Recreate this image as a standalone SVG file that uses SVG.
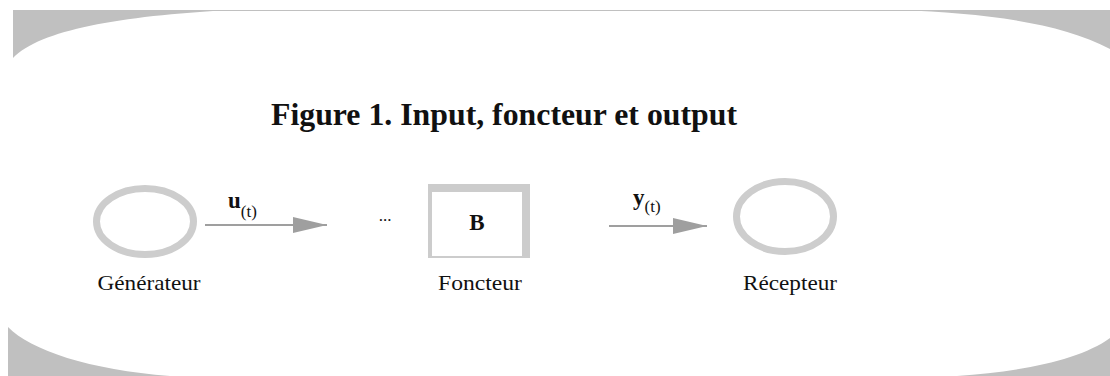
<svg xmlns="http://www.w3.org/2000/svg" width="1110" height="376" viewBox="0 0 1110 376">
  <style>
    .deco { fill: #c0c0c0; stroke: none; }
    .ring { fill: none; stroke: #cdcdcd; stroke-width: 7; }
    .lbl { font-family: "Liberation Serif", "Times New Roman", serif; font-size: 21px; fill: #111; text-anchor: middle; }
    .title { font-family: "Liberation Serif", "Times New Roman", serif; font-size: 31px; font-weight: bold; fill: #111; }
    .sym { font-family: "Liberation Serif", "Times New Roman", serif; font-weight: bold; font-size: 23px; fill: #111; }
    .sub { font-family: "Liberation Serif", "Times New Roman", serif; font-size: 17px; fill: #111; }
    .conn { stroke: #9f9f9f; stroke-width: 2; fill: none; }
  </style>
  <defs>
    <marker id="arrow" markerUnits="userSpaceOnUse" markerWidth="36" markerHeight="18" refX="34" refY="9" orient="auto">
      <path d="M0,1 L34,9 L0,17 Z" fill="#9f9f9f"/>
    </marker>
  </defs>
  <rect width="1110" height="376" fill="#ffffff"/>
  <g id="background">
    <line x1="13" y1="10.5" x2="1110" y2="10.5" stroke="#c0c0c0" stroke-width="1.2"/>
    <path class="deco" d="M13,10 L230,10 C120,16 40,30 13,58 Z"/>
    <path class="deco" d="M901,10 L1110,10 L1110,49 C1060,22 980,13 901,10 Z"/>
    <path class="deco" d="M8,327 C30,350 90,370 170,376 L8,376 Z"/>
    <path class="deco" d="M1110,338 C1080,360 1020,372 957,376 L1110,376 Z"/>
  </g>
  <text class="title" x="271" y="125" textLength="466" lengthAdjust="spacingAndGlyphs">Figure 1. Input, foncteur et output</text>
  <g id="generateur">
    <ellipse class="ring" cx="145" cy="221.5" rx="48.5" ry="33"/>
    <text class="lbl" x="149" y="290" textLength="103" lengthAdjust="spacingAndGlyphs">Générateur</text>
  </g>
  <g id="foncteur">
    <text x="385" y="221" font-family="Liberation Serif, serif" font-size="17" fill="#111" text-anchor="middle">...</text>
    <rect x="428" y="184" width="102" height="74" fill="#cccccc"/>
    <rect x="432" y="192" width="90" height="64" fill="#ffffff"/>
    <text class="sym" x="477" y="230" text-anchor="middle" font-size="20">B</text>
    <text class="lbl" x="480" y="290" textLength="84" lengthAdjust="spacingAndGlyphs">Foncteur</text>
  </g>
  <g id="recepteur">
    <ellipse class="ring" cx="785" cy="216.5" rx="48.5" ry="35"/>
    <text class="lbl" x="790" y="290" textLength="94" lengthAdjust="spacingAndGlyphs">Récepteur</text>
  </g>
  <g id="connectors">
    <line class="conn" x1="205" y1="225" x2="327" y2="225" marker-end="url(#arrow)"/>
    <line class="conn" x1="609" y1="226" x2="707" y2="226" marker-end="url(#arrow)"/>
    <text x="228" y="208"><tspan class="sym">u</tspan><tspan class="sub" dy="9">(t)</tspan></text>
    <text x="633" y="205"><tspan class="sym">y</tspan><tspan class="sub" dy="7">(t)</tspan></text>
  </g>
</svg>
